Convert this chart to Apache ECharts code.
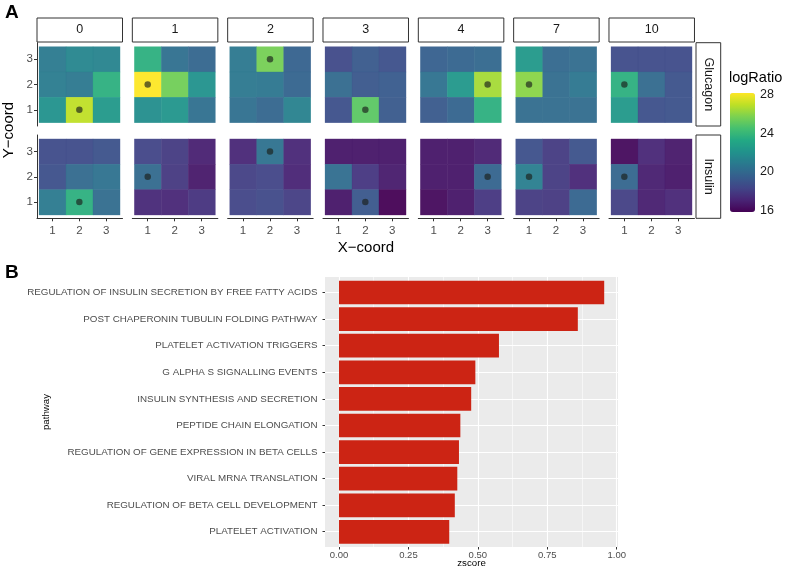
<!DOCTYPE html>
<html><head><meta charset="utf-8">
<script src="https://cdn.jsdelivr.net/npm/echarts/dist/echarts.min.js"></script>
<style>html,body{margin:0;padding:0;background:#fff}#c{width:787px;height:569px}</style>
</head><body><div id="c"></div>
<script>
// ---------- DATA ----------
const days = ['0','1','2','3','4','7','10'];
const hormones = ['Glucagon','Insulin'];
const coordTicks = [1,2,3];
// each day: rows y=3, y=2, y=1 ; columns x=1,2,3
const glucagon = [
  [[20.8,21.4,21.3],[20.9,20.7,23.6],[22.0,27.0,22.4]],
  [[23.6,20.3,19.8],[28.2,25.5,22.0],[21.8,22.2,20.3]],
  [[20.7,25.6,19.6],[20.7,20.6,19.7],[20.3,19.8,21.2]],
  [[18.5,19.2,18.8],[20.0,19.1,19.3],[18.8,25.0,19.2]],
  [[19.5,19.7,19.9],[20.4,22.3,26.5],[19.2,19.7,23.6]],
  [[22.4,19.9,20.1],[26.0,20.1,20.6],[20.1,20.1,20.1]],
  [[18.6,18.6,18.6],[23.6,20.0,18.9],[22.4,18.8,18.9]]
];
const insulin = [
  [[18.6,18.6,18.9],[18.8,20.0,20.4],[20.8,23.6,20.1]],
  [[18.3,17.9,16.9],[20.0,17.8,16.6],[17.2,17.1,17.6]],
  [[17.1,20.4,17.1],[18.1,18.3,17.0],[18.3,18.5,18.0]],
  [[16.5,16.5,16.5],[20.2,17.7,16.7],[16.5,19.1,15.8]],
  [[16.5,16.5,16.9],[16.5,16.5,19.7],[16.1,16.5,17.7]],
  [[18.8,17.9,18.9],[21.0,17.9,17.1],[17.9,17.8,19.7]],
  [[16.1,17.1,16.6],[19.8,16.8,16.5],[18.1,16.8,17.1]]
];
const highlight = [[2,1],[1,2],[2,3],[2,1],[3,2],[1,2],[1,2]];
const legendTicks = [16,20,24,28];
const pathways = [
  'REGULATION OF INSULIN SECRETION BY FREE FATTY ACIDS',
  'POST CHAPERONIN TUBULIN FOLDING PATHWAY',
  'PLATELET ACTIVATION TRIGGERS',
  'G ALPHA S SIGNALLING EVENTS',
  'INSULIN SYNTHESIS AND SECRETION',
  'PEPTIDE CHAIN ELONGATION',
  'REGULATION OF GENE EXPRESSION IN BETA CELLS',
  'VIRAL MRNA TRANSLATION',
  'REGULATION OF BETA CELL DEVELOPMENT',
  'PLATELET ACTIVATION'
];
const zscore = [0.955,0.860,0.576,0.491,0.476,0.437,0.432,0.426,0.417,0.397];

// ---------- STYLE / LAYOUT ----------
const FF = 'Liberation Sans, Arial, Helvetica, sans-serif';
const viridis = ['#440154','#482475','#414487','#355f8d','#2a788e','#21918c','#22a884','#44bf70','#7ad151','#bddf26','#fde725'];
const L = {colLeft:37, colStep:95.33, panelW:85.5, rowTop:[42.7,135], panelH:83.3,
  stripTop:18, stripH:24, rStripLeft:696, rStripW:24.7,
  xMin:0.43, xMax:3.6, yMin:0.36, yMax:3.65};

const grid=[], xAxis=[], yAxis=[], series=[], graphic=[];
const allVals = glucagon.concat(insulin).flat(2);
const vMin = Math.min(...allVals), vMax = Math.max(...allVals);
const customIdx = [];

function renderTile(params, api){
  const x = api.value(0), y = api.value(1);
  const a = api.coord([x-0.5, y+0.5]);
  const b = api.coord([x+0.5, y-0.5]);
  return {type:'rect', shape:{x:a[0], y:a[1], width:b[0]-a[0]+0.4, height:b[1]-a[1]+0.4},
    style:{fill: api.visual('color'), opacity:0.95}};
}

hormones.forEach((h, r) => {
  const mats = r===0 ? glucagon : insulin;
  days.forEach((d, c) => {
    const gi = grid.length;
    const left = L.colLeft + c*L.colStep;
    grid.push({left:left, top:L.rowTop[r], width:L.panelW, height:L.panelH});
    const showX = r===1, showY = c===0;
    xAxis.push({type:'value', gridIndex:gi, min:L.xMin, max:L.xMax, splitLine:{show:false},
      axisLine:{show:showX, onZero:false, lineStyle:{color:'#333', width:1}},
      axisTick:{show:showX, customValues:coordTicks, length:3, lineStyle:{color:'#333'}},
      axisLabel:{show:showX, customValues:coordTicks, fontSize:11.5, color:'#4d4d4d', margin:7, fontFamily:FF}});
    yAxis.push({type:'value', gridIndex:gi, min:L.yMin, max:L.yMax, splitLine:{show:false},
      axisLine:{show:showY, onZero:false, lineStyle:{color:'#333', width:1}},
      axisTick:{show:showY, customValues:coordTicks, length:3, lineStyle:{color:'#333'}},
      axisLabel:{show:showY, customValues:coordTicks, fontSize:11.5, color:'#4d4d4d', margin:4, fontFamily:FF}});
    const data = [];
    mats[c].forEach((row, ri) => row.forEach((v, xi) => data.push([coordTicks[xi], coordTicks[2-ri], v])));
    customIdx.push(series.length);
    series.push({type:'custom', xAxisIndex:gi, yAxisIndex:gi, data:data, encode:{x:0, y:1}, renderItem:renderTile, silent:true});
    series.push({type:'scatter', xAxisIndex:gi, yAxisIndex:gi, data:[highlight[c]], symbolSize:6.5,
      itemStyle:{color:'rgba(28,32,28,0.82)'}, silent:true, z:5});
    if (r===0) {
      graphic.push({type:'rect', shape:{x:left, y:L.stripTop, width:L.panelW, height:L.stripH},
        style:{fill:'#fff', stroke:'#333', lineWidth:1}});
      graphic.push({type:'text', x:left+L.panelW/2, y:L.stripTop+L.stripH/2,
        style:{text:d, align:'center', verticalAlign:'middle', textAlign:'center', textVerticalAlign:'middle',
          font:'12.5px '+FF, fill:'#1a1a1a'}});
    }
  });
  graphic.push({type:'rect', shape:{x:L.rStripLeft, y:L.rowTop[r], width:L.rStripW, height:L.panelH},
    style:{fill:'#fff', stroke:'#333', lineWidth:1}});
  graphic.push({type:'text', x:L.rStripLeft+L.rStripW/2, y:L.rowTop[r]+L.panelH/2, rotation:-Math.PI/2,
    style:{text:h, align:'center', verticalAlign:'middle', textAlign:'center', textVerticalAlign:'middle',
      font:'12.5px '+FF, fill:'#1a1a1a'}});
});

// colorbar tick labels
const cbGrid = grid.length;
grid.push({left:730, top:93, width:25, height:119});
xAxis.push({type:'value', gridIndex:cbGrid, show:false});
yAxis.push({type:'value', gridIndex:cbGrid, min:vMin, max:vMax, position:'right', z:6,
  axisLine:{show:false}, splitLine:{show:false}, axisTick:{show:false},
  axisLabel:{customValues:legendTicks, fontSize:12.5, color:'#1a1a1a', margin:5, fontFamily:FF}});

// ---------- Panel B ----------
// A: grey background + axis titles
const gA = grid.length;
grid.push({left:325, top:277, width:293, height:270, show:true, backgroundColor:'#ebebeb', borderWidth:0});
xAxis.push({type:'value', gridIndex:gA, min:-0.048, max:1.008, axisLine:{show:false}, axisTick:{show:false},
  axisLabel:{show:false}, splitLine:{show:false}, name:'zscore', nameLocation:'middle', nameGap:11,
  nameTextStyle:{fontSize:9.7, color:'#000', fontFamily:FF}});
yAxis.push({type:'value', gridIndex:gA, axisLine:{show:false}, axisTick:{show:false},
  axisLabel:{show:false}, splitLine:{show:false}, name:'pathway', nameLocation:'middle', nameGap:274, nameRotate:90,
  nameTextStyle:{fontSize:9.7, color:'#000', fontFamily:FF}});
// C: horizontal lines + pathway labels (at bar centres)
const gC = grid.length;
grid.push({left:325, top:292.5, width:293, height:239.2});
xAxis.push({type:'value', gridIndex:gC, min:0, max:1, show:false});
yAxis.push({type:'category', gridIndex:gC, data:pathways, inverse:true, boundaryGap:false,
  axisLine:{show:false}, axisTick:{show:true, length:2.5, lineStyle:{color:'#333'}},
  axisLabel:{fontSize:9.8, color:'#4d4d4d', margin:7.5, fontFamily:FF},
  splitLine:{show:true, lineStyle:{color:'#fff', width:1.1}}});
// B: vertical grid + x labels
const gB = grid.length;
grid.push({left:339, top:277, width:277.7, height:270});
xAxis.push({type:'value', gridIndex:gB, min:0, max:1, interval:0.25,
  axisLine:{show:false}, axisTick:{show:true, length:2.5, lineStyle:{color:'#333'}},
  axisLabel:{fontSize:9.5, color:'#4d4d4d', margin:3, fontFamily:FF, formatter:v => v.toFixed(2)},
  splitLine:{show:true, lineStyle:{color:'#fff', width:1.1}},
  minorTick:{show:false, splitNumber:2},
  minorSplitLine:{show:true, lineStyle:{color:'#fff', width:0.55}}});
yAxis.push({type:'value', gridIndex:gB, show:false});
// D: bars
const gD = grid.length;
grid.push({left:339, top:279.2, width:277.7, height:266});
xAxis.push({type:'value', gridIndex:gD, min:0, max:1, show:false});
yAxis.push({type:'category', gridIndex:gD, data:pathways, inverse:true, show:false});
series.push({type:'bar', xAxisIndex:xAxis.length-1, yAxisIndex:yAxis.length-1, data:zscore, barCategoryGap:'11%',
  itemStyle:{color:'#cc2414'}, silent:true});

// titles
graphic.push({type:'text', x:5, y:3, style:{text:'A', font:'bold 19px '+FF, fill:'#000', verticalAlign:'top', textVerticalAlign:'top'}});
graphic.push({type:'text', x:5, y:263, style:{text:'B', font:'bold 19px '+FF, fill:'#000', verticalAlign:'top', textVerticalAlign:'top'}});
graphic.push({type:'text', x:366, y:248, style:{text:'X\u2212coord', font:'15px '+FF, fill:'#000', align:'center', verticalAlign:'middle', textAlign:'center', textVerticalAlign:'middle'}});
graphic.push({type:'text', x:9, y:130, rotation:Math.PI/2, style:{text:'Y\u2212coord', font:'15px '+FF, fill:'#000', align:'center', verticalAlign:'middle', textAlign:'center', textVerticalAlign:'middle'}});
graphic.push({type:'text', x:729, y:78, style:{text:'logRatio', font:'14.5px '+FF, fill:'#000', align:'left', verticalAlign:'middle', textAlign:'left', textVerticalAlign:'middle'}});

const chart = echarts.init(document.getElementById('c'), null, {renderer:'canvas'});
chart.setOption({
  animation:false,
  textStyle:{fontFamily:FF},
  grid:grid, xAxis:xAxis, yAxis:yAxis, series:series, graphic:graphic,
  visualMap:{type:'continuous', min:vMin, max:vMax, dimension:2, seriesIndex:customIdx,
    inRange:{color:viridis}, orient:'vertical', left:730, top:93, itemWidth:25, itemHeight:119,
    calculable:false, padding:0, hoverLink:false}
});
</script></body></html>
